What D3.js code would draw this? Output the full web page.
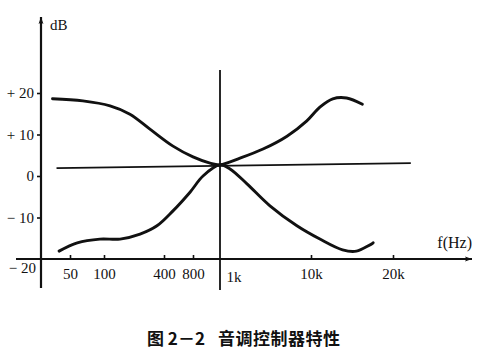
<!DOCTYPE html>
<html><head><meta charset="utf-8">
<script src="https://cdn.jsdelivr.net/npm/d3@7/dist/d3.min.js"></script>
<style>
html,body{margin:0;padding:0;background:#fff;}
svg{display:block;}
svg text{font-family:'Liberation Serif','Times New Roman',Times,'DejaVu Serif',serif;fill:#111;}
svg text.cap{font-family:'Noto Sans CJK SC','Noto Sans CJK JP',sans-serif;font-weight:bold;}
</style></head>
<body>
<svg id="c" width="485" height="356"></svg>
<script>
// tick positions (Hz) and labels as printed
const freqTicks = [50, 100, 400, 800, 1000, 10000, 20000];
const freqLabels = ["50", "100", "400", "800", "1k", "10k", "20k"];
const dbTicks = [20, 10, 0, -10, -20];
const dbLabels = ["+ 20", "+ 10", "0", "− 10", "− 20"];

// curve: maximum boost (bass and treble)
const boostF  = [35, 65, 115, 182, 289, 496, 800, 921, 1000, 1658, 2970, 5450, 9000, 10780, 12020, 13510, 15440];
const boostDb = [18.6, 18.1, 16.9, 14.9, 11.3, 7.2, 4.6, 3.1, 2.7, 4.3, 6.5, 9.6, 13.3, 16.6, 18.6, 18.8, 17.3];
// curve: maximum cut
const cutF  = [40, 58, 92, 145, 230, 340, 496, 745, 869, 1000, 1288, 1980, 3540, 7000, 10780, 13060, 14680, 16920];
const cutDb = [-18.1, -16.1, -15.2, -15.2, -14.0, -12.0, -8.4, -3.9, 0, 2.7, 1.7, -1.9, -7.2, -12.0, -15.2, -17.8, -18.1, -16.1];
// flat response line
const flatF  = [38, 23250];
const flatDb = [1.9, 3.1];

const svg = d3.select("#c");
// the printed frequency axis is not to a uniform log scale; piecewise log
const x = d3.scaleLog().domain(freqTicks).range([70, 104, 164, 193, 220, 311, 393]);
const y = d3.scaleLinear().domain([-20, 20]).range([259, 93]);

const ink = "#111";

const defs = svg.append("defs");
defs.append("marker").attr("id","arr").attr("viewBox","0 0 10 10")
  .attr("refX",10).attr("refY",5).attr("markerWidth",14).attr("markerHeight",7)
  .attr("markerUnits","userSpaceOnUse").attr("orient","auto")
  .append("path").attr("d","M0,1.5 L10,5 L0,8.5 L2,5 Z").attr("fill",ink);

// axes lines with arrows
svg.append("line").attr("x1",16).attr("y1",y(-20)).attr("x2",472).attr("y2",y(-20))
  .attr("stroke",ink).attr("stroke-width",2).attr("marker-end","url(#arr)");
svg.append("line").attr("x1",41).attr("y1",288).attr("x2",41).attr("y2",17)
  .attr("stroke",ink).attr("stroke-width",2.2).attr("marker-end","url(#arr)");

// x ticks
const xAxis = d3.axisBottom(x).tickValues(freqTicks.filter(d => d !== 1000))
  .tickSize(-4).tickPadding(9)
  .tickFormat(d => freqLabels[freqTicks.indexOf(d)]);
const gx = svg.append("g").attr("transform",`translate(0,${y(-20)})`).call(xAxis)
  .attr("font-family", null).attr("font-size", null);
gx.select(".domain").remove();
gx.selectAll(".tick line").attr("stroke",ink).attr("stroke-width",1.6);
gx.selectAll(".tick text").attr("font-size",15).attr("fill",ink);
svg.append("text").attr("x", x(1000) + 14).attr("y", y(-20) + 23)
  .attr("text-anchor","middle").attr("font-size",15).text(freqLabels[4]);

// y ticks
const yAxis = d3.axisLeft(y).tickValues(dbTicks.filter(d => d !== -20))
  .tickSize(4).tickPadding(3)
  .tickFormat(d => dbLabels[dbTicks.indexOf(d)]);
const gy = svg.append("g").attr("transform","translate(41,0)").call(yAxis)
  .attr("font-family", null).attr("font-size", null);
gy.select(".domain").remove();
gy.selectAll(".tick line").attr("stroke",ink).attr("stroke-width",1.6);
gy.selectAll(".tick text").attr("font-size",15).attr("fill",ink);
svg.append("text").attr("x",36).attr("y",y(-20)+14).attr("text-anchor","end")
  .attr("font-size",15).text(dbLabels[4]);

// axis titles
svg.append("text").attr("x",50).attr("y",30).attr("font-size",15).text("dB");
svg.append("text").attr("x",472).attr("y",248).attr("text-anchor","end")
  .attr("font-size",16).text("f(Hz)");

// 1 kHz reference line
svg.append("line").attr("x1",x(1000)).attr("x2",x(1000)).attr("y1",70).attr("y2",290)
  .attr("stroke",ink).attr("stroke-width",1.8);

// curves
const line = d3.line().x(d => x(d[0])).y(d => y(d[1])).curve(d3.curveCatmullRom.alpha(0.5));
svg.append("path").datum(flatF.map((f,i)=>[f,flatDb[i]]))
  .attr("d", d3.line().x(d=>x(d[0])).y(d=>y(d[1])))
  .attr("fill","none").attr("stroke",ink).attr("stroke-width",1.8);
svg.append("path").datum(boostF.map((f,i)=>[f,boostDb[i]]))
  .attr("d", line).attr("fill","none").attr("stroke",ink).attr("stroke-width",2.9)
  .attr("stroke-linecap","round");
svg.append("path").datum(cutF.map((f,i)=>[f,cutDb[i]]))
  .attr("d", line).attr("fill","none").attr("stroke",ink).attr("stroke-width",2.9)
  .attr("stroke-linecap","round");

// caption
const cap = svg.append("text").attr("class","cap").attr("y",345).attr("font-size",17);
cap.append("tspan").attr("x",147).text("图 2－2");
cap.append("tspan").attr("x",218).attr("textLength",122).text("音调控制器特性");
</script>
</body></html>
